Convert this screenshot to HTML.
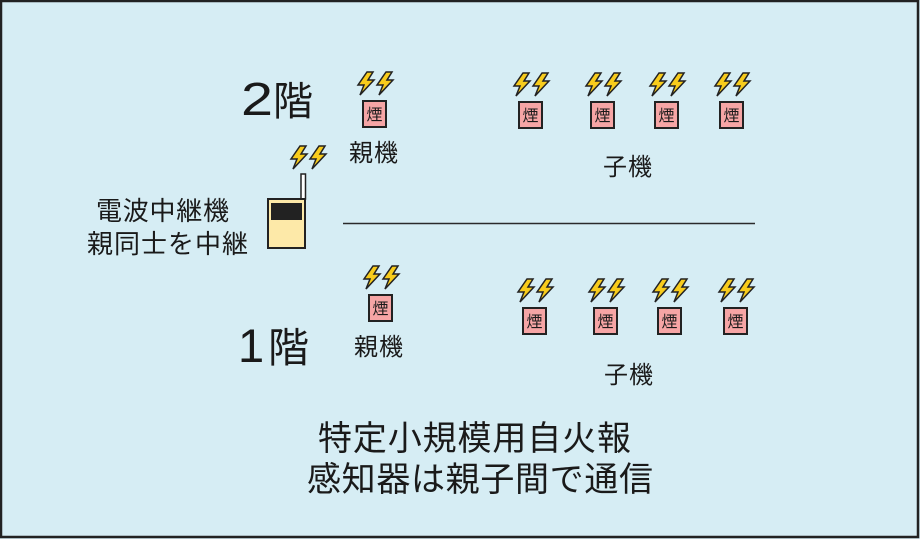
<!DOCTYPE html>
<html>
<head>
<meta charset="utf-8">
<style>
  html,body{margin:0;padding:0;background:#d6edf4;}
  svg{display:block;}
  text{font-family:"Liberation Sans","Noto Sans CJK JP",sans-serif;fill:#1a1a1a;}
</style>
</head>
<body>
<svg width="920" height="539" viewBox="0 0 920 539" xmlns="http://www.w3.org/2000/svg">
  <defs>
    <g id="bolt">
      <path d="M10,0 L16,0 L11,8 L17,8 L3,23 L7,13 L1,13 Z" fill="#f8cc1c" stroke="#222" stroke-width="1.5" stroke-linejoin="miter"/>
    </g>
    <g id="bolts">
      <use href="#bolt" x="0" y="0"/>
      <use href="#bolt" x="19" y="0"/>
    </g>
    <g id="smoke">
      <rect x="1" y="1" width="23" height="26" fill="#f6a5a5" stroke="#222" stroke-width="2"/>
      <text x="12.5" y="20" font-size="16" text-anchor="middle">煙</text>
    </g>
  </defs>

  <!-- background & border -->
  <rect x="0" y="0" width="920" height="539" fill="#d6edf4"/>
  <rect x="1" y="1" width="917" height="536" fill="none" stroke="#222" stroke-width="2.5"/>

  <!-- floor labels -->
  <text x="241" y="115" font-size="46" textLength="32" lengthAdjust="spacingAndGlyphs">2</text>
  <text x="273" y="115" font-size="40">階</text>
  <text x="238" y="362" font-size="47">1</text>
  <text x="268" y="362" font-size="41">階</text>

  <!-- relay label -->
  <text x="96" y="220" font-size="26" textLength="133" lengthAdjust="spacing">電波中継機</text>
  <text x="87" y="253" font-size="26" textLength="161" lengthAdjust="spacing">親同士を中継</text>

  <!-- relay device -->
  <use href="#bolts" x="290" y="146"/>
  <rect x="301" y="174" width="4.5" height="25" fill="#ffffff" stroke="#222" stroke-width="1.5"/>
  <rect x="268" y="199" width="37" height="49" fill="#fde9a8" stroke="#222" stroke-width="2"/>
  <rect x="271" y="203" width="31" height="17" fill="#222"/>

  <!-- 2F parent -->
  <use href="#bolts" x="357" y="72"/>
  <use href="#smoke" x="362" y="100"/>
  <text x="349" y="161" font-size="24" textLength="49" lengthAdjust="spacing">親機</text>

  <!-- 2F children -->
  <use href="#bolts" x="513" y="73"/>
  <use href="#smoke" x="518" y="101"/>
  <use href="#bolts" x="585" y="73"/>
  <use href="#smoke" x="590" y="101"/>
  <use href="#bolts" x="649" y="73"/>
  <use href="#smoke" x="654" y="101"/>
  <use href="#bolts" x="714" y="73"/>
  <use href="#smoke" x="719" y="101"/>
  <text x="603" y="175" font-size="24" textLength="49" lengthAdjust="spacing">子機</text>

  <!-- divider -->
  <line x1="343" y1="223.5" x2="755" y2="223.5" stroke="#2a2a2a" stroke-width="1.6"/>

  <!-- 1F parent -->
  <use href="#bolts" x="363" y="266"/>
  <use href="#smoke" x="368" y="294"/>
  <text x="354" y="355" font-size="24" textLength="49" lengthAdjust="spacing">親機</text>

  <!-- 1F children -->
  <use href="#bolts" x="517" y="279"/>
  <use href="#smoke" x="522" y="307"/>
  <use href="#bolts" x="588" y="279"/>
  <use href="#smoke" x="593" y="307"/>
  <use href="#bolts" x="652" y="279"/>
  <use href="#smoke" x="657" y="307"/>
  <use href="#bolts" x="718" y="279"/>
  <use href="#smoke" x="723" y="307"/>
  <text x="604" y="383" font-size="24" textLength="49" lengthAdjust="spacing">子機</text>

  <!-- bottom caption -->
  <text x="318" y="450" font-size="34" textLength="313" lengthAdjust="spacing">特定小規模用自火報</text>
  <text x="307" y="491" font-size="34" textLength="346" lengthAdjust="spacing">感知器は親子間で通信</text>
</svg>
</body>
</html>
